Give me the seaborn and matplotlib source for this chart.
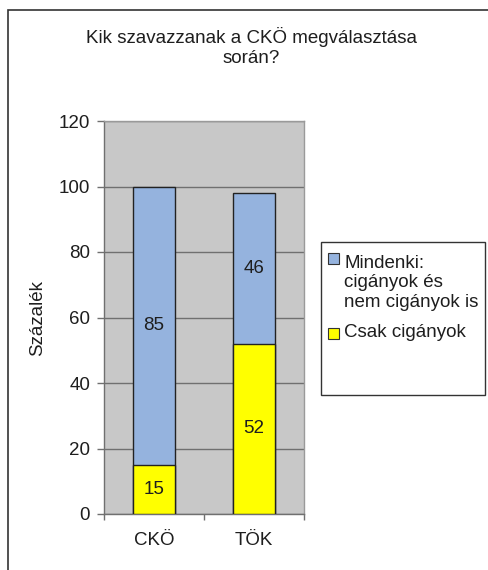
import numpy as np
import pandas as pd
import matplotlib
matplotlib.use("Agg")
import matplotlib.pyplot as plt
from matplotlib.patches import Rectangle
import seaborn as sns

# data
categories = ["CKÖ", "TÖK"]
csak_ciganyok = [15, 52]
mindenki = [85, 46]
series_labels = ["Mindenki:\ncigányok és\nnem cigányok is", "Csak cigányok"]
title = "Kik szavazzanak a CKÖ megválasztása\nsorán?"
ylabel = "Százalék"
yticks = [0, 20, 40, 60, 80, 100, 120]

BLUE = "#95b3de"
YELLOW = "#ffff00"
BG = "#c8c8c8"
GRID = "#707070"
TXT = "#1e1e1e"
FS = 13.5

sns.set_style("white")
plt.rcParams["font.family"] = ["Liberation Sans", "DejaVu Sans"]

df = pd.DataFrame({
    "cat": categories,
    "low": csak_ciganyok,
    "high": mindenki,
})
df["total"] = df["low"] + df["high"]

fig = plt.figure(figsize=(4.88, 5.70), dpi=100)
ax = fig.add_axes([104 / 488, 1 - 514 / 570, 200 / 488, 393 / 570])
ax.set_facecolor(BG)

sns.barplot(data=df, x="cat", y="total", color=BLUE, width=0.42,
            edgecolor="#222222", linewidth=1.0, saturation=1, ax=ax, zorder=3)
sns.barplot(data=df, x="cat", y="low", color=YELLOW, width=0.42,
            edgecolor="#222222", linewidth=1.0, saturation=1, ax=ax, zorder=3)

for i, row in df.iterrows():
    ax.text(i, row["low"] / 2, str(row["low"]), ha="center", va="center",
            fontsize=FS, color=TXT, zorder=4)
    ax.text(i, row["low"] + row["high"] / 2, str(row["high"]), ha="center",
            va="center", fontsize=FS, color=TXT, zorder=4)

ax.set_ylim(0, 120)
ax.set_xlim(-0.5, 1.5)
ax.set_yticks(yticks)
ax.yaxis.grid(True, color=GRID, linewidth=1)
ax.set_axisbelow(True)
ax.set_xlabel("")
ax.set_ylabel(ylabel, fontsize=FS, color=TXT, labelpad=9)
ax.tick_params(axis="y", length=5, width=1, color=GRID, labelsize=FS,
               labelcolor=TXT, pad=5, left=True)
ax.set_xticks([0, 1])
ax.set_xticklabels(categories)
ax.tick_params(axis="x", length=0, labelsize=FS, labelcolor=TXT, pad=13)
ax.set_xticks([-0.5, 0.5, 1.5], minor=True)
ax.tick_params(axis="x", which="minor", length=4, width=1, color=GRID,
               bottom=True)
for s in ax.spines.values():
    s.set_color(GRID)
    s.set_linewidth(1)
ax.spines["right"].set_color("#9a9a9a")
ax.spines["top"].set_color("#9a9a9a")

# va="baseline" on multi-line text aligns the last line
fig.text(251 / 488, 1 - 63 / 570, title, ha="center", va="baseline",
         fontsize=FS, color=TXT, linespacing=1.25)

# outer chart border
fig.patches.append(Rectangle((8 / 488, -0.1), 1.2, 1 - 10 / 570 + 0.1,
                             transform=fig.transFigure, fill=False,
                             edgecolor="#333333", linewidth=1.2))

# legend box
fig.patches.append(Rectangle((321 / 488, 1 - 395 / 570), 164 / 488, 153 / 570,
                             transform=fig.transFigure, facecolor="white",
                             edgecolor="#333333", linewidth=1))
for (y_first, y_last, color, label) in [(262, 307, BLUE, series_labels[0]),
                                        (337, 337, YELLOW, series_labels[1])]:
    fig.patches.append(Rectangle((328 / 488, 1 - (y_first + 2) / 570),
                                 11 / 488, 11 / 570,
                                 transform=fig.transFigure,
                                 facecolor=color, edgecolor="#333333",
                                 linewidth=0.8))
    fig.text(344 / 488, 1 - y_last / 570, label, ha="left", va="baseline",
             fontsize=FS, color=TXT, linespacing=1.2)

fig.savefig("out.png", dpi=100)
